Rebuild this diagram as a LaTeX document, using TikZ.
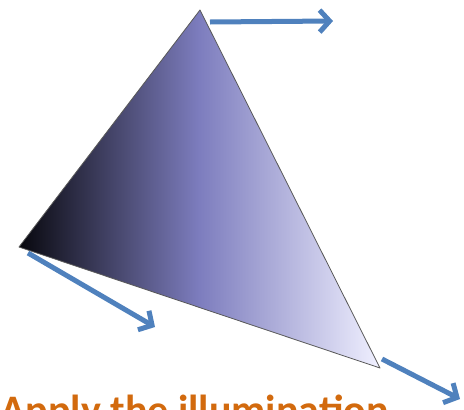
\documentclass[tikz,border=0pt]{standalone}
\usepackage{fontspec}
\setmainfont{Carlito}
\usetikzlibrary{arrows.meta}
\definecolor{ArrowBlue}{HTML}{4F81BD}
\definecolor{CapOrange}{HTML}{D26A0E}
\definecolor{TriDark}{HTML}{08080E}
\definecolor{TriMid}{HTML}{7D7DBE}
\definecolor{TriLight}{HTML}{F0F0FF}

\begin{document}
\begin{tikzpicture}[x=1pt, y=-1pt,
  normal/.style={draw=ArrowBlue, line width=5pt,
              -{Straight Barb[length=10pt, width=22pt, line width=5pt]}},
  caption/.style={anchor=base west, inner sep=0pt, text=CapOrange,
              font=\fontsize{42}{48}\selectfont\bfseries}]
\useasboundingbox (0,0) rectangle (464,410);
% triangle corners
\coordinate (top) at (200,10);
\coordinate (left) at (19,247);
\coordinate (right) at (380,368);
% gradient fill
\begin{scope}
  \clip (top) -- (left) -- (right) -- cycle;
  \shade[left color=TriDark, right color=TriLight, middle color=TriMid]
    (19,0) rectangle (380,370);
\end{scope}
\draw[gray!70!black, line width=0.8pt, line join=round] (top) -- (left) -- (right) -- cycle;
% normals at the corners
\coordinate (n1s) at (210,22);
\coordinate (n1e) at (333,21);
\coordinate (n2s) at (28,253);
\coordinate (n2e) at (155,327);
\coordinate (n3s) at (382,359);
\coordinate (n3e) at (460,399);
\draw[normal] (n1s) -- (n1e);
\draw[normal] (n2s) -- (n2e);
\draw[normal] (n3s) -- (n3e);
\node[caption] (label) at (0,424) {Apply the illumination};
\end{tikzpicture}
\end{document}
